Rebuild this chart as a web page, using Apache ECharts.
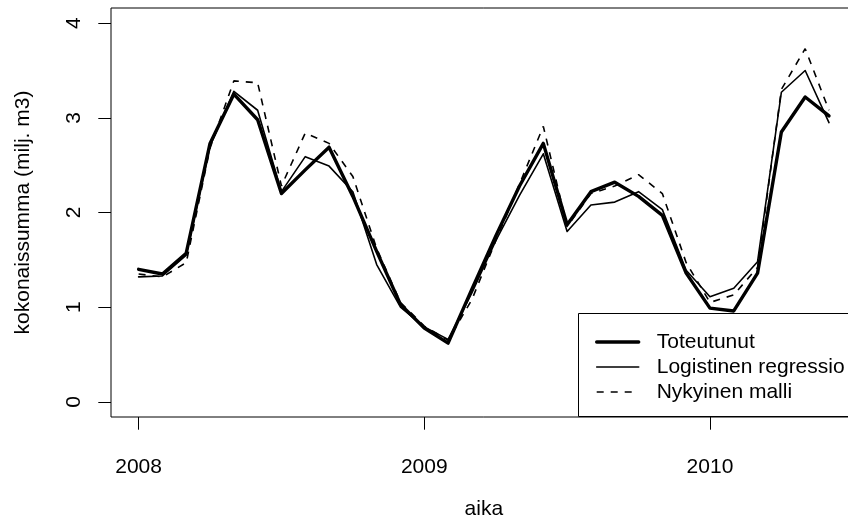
<!DOCTYPE html>
<html>
<head>
<meta charset="utf-8">
<script src="https://cdn.jsdelivr.net/npm/echarts@6/dist/echarts.min.js"></script>
<style>
  html, body { margin: 0; padding: 0; background: #fff; overflow: hidden; width: 848px; height: 519px; }
  /* the plot region runs past the right edge of the page, so the canvas is wider than the window */
  #chart { width: 900px; height: 519px; }
</style>
</head>
<body>
<div id="chart"></div>
<script>
// Monthly series, January 2008 – June 2010 (million m3)
const startYear = 2008;
const yearTicks = [2008, 2009, 2010];
const valueTicks = [0, 1, 2, 3, 4];

const toteutunut = [
  1.40, 1.35, 1.57, 2.73, 3.25, 2.98, 2.20, 2.45, 2.69, 2.17, 1.59, 1.03,
  0.78, 0.62, 1.19, 1.75, 2.28, 2.73, 1.87, 2.22, 2.32, 2.17, 1.97, 1.36,
  0.99, 0.96, 1.36, 2.85, 3.22, 3.02
];
const logistinen = [
  1.32, 1.33, 1.55, 2.70, 3.28, 3.08, 2.22, 2.59, 2.49, 2.22, 1.45, 1.00,
  0.79, 0.66, 1.15, 1.70, 2.18, 2.62, 1.80, 2.08, 2.11, 2.22, 2.03, 1.39,
  1.11, 1.20, 1.48, 3.27, 3.50, 2.95
];
const nykyinen = [
  1.35, 1.32, 1.47, 2.68, 3.39, 3.37, 2.28, 2.84, 2.73, 2.38, 1.62, 1.05,
  0.80, 0.65, 1.08, 1.70, 2.30, 2.91, 1.85, 2.20, 2.28, 2.40, 2.20, 1.47,
  1.05, 1.13, 1.42, 3.30, 3.73, 3.08
];

const seriesNames = ['Toteutunut', 'Logistinen regressio', 'Nykyinen malli'];

// time in decimal years for each monthly observation
const toPoints = vals => vals.map((v, i) => [startYear + i / 12, v]);

// 4 % padding on both axes, as in classic base graphics
const n = toteutunut.length;
const xFirst = startYear, xLast = startYear + (n - 1) / 12;
const xPad = (xLast - xFirst) * 0.04;
const yPad = 4 * 0.04;

const font = 'Liberation Sans, Arial, Helvetica, sans-serif';

const thick = { color: '#000', width: 3.4, cap: 'round', join: 'round' };
const thin = { color: '#000', width: 1.6, cap: 'round', join: 'round' };
const dashed = { color: '#000', width: 1.6, type: [7, 7] };

const chart = echarts.init(document.getElementById('chart'), null, { renderer: 'canvas' });
chart.setOption({
  animation: false,
  backgroundColor: '#fff',
  textStyle: { fontFamily: font, color: '#000' },
  grid: {
    left: 111, top: 8, width: 745.6, height: 409,
    outerBoundsMode: 'none',
    containLabel: false,
    show: true, borderColor: '#000', borderWidth: 1, backgroundColor: 'transparent'
  },
  xAxis: {
    type: 'value',
    min: xFirst - xPad,
    max: xLast + xPad,
    name: 'aika',
    nameLocation: 'middle',
    nameGap: 82,
    nameTextStyle: { fontSize: 21, color: '#000', fontFamily: font },
    axisLine: { show: false, onZero: false },
    splitLine: { show: false },
    axisTick: {
      show: true, inside: false, length: 12.7,
      customValues: yearTicks,
      lineStyle: { color: '#000', width: 1 }
    },
    axisLabel: {
      customValues: yearTicks,
      fontSize: 21, color: '#000', fontFamily: font, margin: 40,
      formatter: v => String(Math.round(v))
    }
  },
  yAxis: {
    type: 'value',
    min: -yPad,
    max: 4 + yPad,
    name: 'kokonaissumma (milj. m3)',
    nameLocation: 'middle',
    nameGap: 77,
    nameTextStyle: { fontSize: 21, color: '#000', fontFamily: font },
    axisLine: { show: false, onZero: false },
    splitLine: { show: false },
    axisTick: {
      show: true, inside: false, length: 12.7,
      customValues: valueTicks,
      lineStyle: { color: '#000', width: 1 }
    },
    axisLabel: {
      customValues: valueTicks,
      rotate: 90,
      fontSize: 21, color: '#000', fontFamily: font, margin: 26,
      formatter: v => String(Math.round(v))
    }
  },
  // white legend panel, open past the right edge of the page
  graphic: [{
    type: 'rect',
    z: 6,
    silent: true,
    shape: { x: 578.5, y: 313.5, width: 320, height: 103 },
    style: { fill: '#fff', stroke: '#000', lineWidth: 1 }
  }],
  legend: {
    orient: 'vertical',
    left: 578, top: 313,
    z: 7,
    data: [
      { name: seriesNames[0], lineStyle: thick },
      { name: seriesNames[1], lineStyle: thin },
      { name: seriesNames[2], lineStyle: dashed }
    ],
    backgroundColor: 'transparent',
    borderWidth: 0,
    padding: [18.5, 20, 14.5, 17],
    itemWidth: 42, itemHeight: 21, itemGap: 4,
    itemStyle: { opacity: 0 },
    textStyle: { fontSize: 21, color: '#000', fontFamily: font, padding: [0, 0, 0, 13] },
    selectedMode: false
  },
  series: [
    {
      name: seriesNames[0], type: 'line', data: toPoints(toteutunut),
      symbol: 'none', color: '#000', lineStyle: thick, z: 3
    },
    {
      name: seriesNames[1], type: 'line', data: toPoints(logistinen),
      symbol: 'none', color: '#000', lineStyle: thin, z: 4
    },
    {
      name: seriesNames[2], type: 'line', data: toPoints(nykyinen),
      symbol: 'none', color: '#000', lineStyle: dashed, z: 5
    }
  ]
});
</script>
</body>
</html>
